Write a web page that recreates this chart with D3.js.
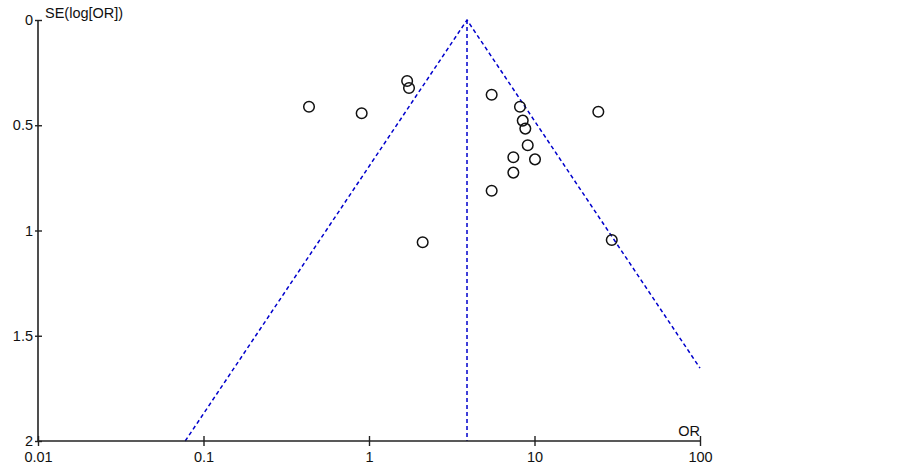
<!DOCTYPE html>
<html>
<head>
<meta charset="utf-8">
<script src="https://cdn.jsdelivr.net/npm/d3@7"></script>
<style>
  body { margin: 0; background: #fff; }
  text { font-family: "Liberation Sans", Arial, sans-serif; }
</style>
</head>
<body>
<div id="canvas"></div>
<script>
// study odds ratios and their standard errors
const studyOR = [0.434, 0.903, 1.70, 1.745, 5.51, 8.17, 24.3, 8.49, 8.80, 9.10, 7.45, 10.07, 7.45, 5.51, 2.11, 29.3];
const studySE = [0.412, 0.443, 0.290, 0.323, 0.355, 0.412, 0.436, 0.478, 0.516, 0.595, 0.652, 0.662, 0.725, 0.811, 1.056, 1.045];
const pooledOR = 3.91;

const xTicks = [0.01, 0.1, 1, 10, 100];
const xTickLabels = ['0.01', '0.1', '1', '10', '100'];
const yTicks = [0, 0.5, 1, 1.5, 2];
const yTickLabels = ['0', '0.5', '1', '1.5', '2'];

const MARGIN = { LEFT: 38, RIGHT: 203, TOP: 20, BOTTOM: 25 };
const W = 903, H = 466;
const WIDTH = W - MARGIN.LEFT - MARGIN.RIGHT;
const HEIGHT = H - MARGIN.TOP - MARGIN.BOTTOM;

const svg = d3.select('#canvas').append('svg')
  .attr('width', W)
  .attr('height', H);

const g = svg.append('g')
  .attr('transform', `translate(${MARGIN.LEFT}, ${MARGIN.TOP})`);

const x = d3.scaleLog().domain([0.01, 100]).range([0, WIDTH]);
const y = d3.scaleLinear().domain([0, 2]).range([0, HEIGHT]);

// funnel (pseudo 95% limits)
const lp = Math.log(pooledOR);
const seRight = (Math.log(100) - lp) / 1.96;
const funnel = [
  [Math.exp(lp - 1.96 * 2), 2],
  [pooledOR, 0],
  [Math.exp(lp + 1.96 * seRight), seRight]
];
const line = d3.line().x(d => x(d[0])).y(d => y(d[1]));

g.append('path')
  .attr('d', line(funnel))
  .attr('fill', 'none')
  .attr('stroke', '#0000cc')
  .attr('stroke-width', 1.5)
  .attr('stroke-dasharray', '4,3');

g.append('path')
  .attr('d', line([[pooledOR, 0], [pooledOR, 2]]))
  .attr('fill', 'none')
  .attr('stroke', '#0000cc')
  .attr('stroke-width', 1.5)
  .attr('stroke-dasharray', '4,3');

// axes
const yAxis = g.append('g')
  .call(d3.axisLeft(y).tickValues(yTicks).tickFormat((d, i) => yTickLabels[i]).tickSize(3).tickPadding(2));
yAxis.select('.domain').attr('stroke', '#222').attr('stroke-width', 1.6).attr('d', `M0,0V${HEIGHT}`);
yAxis.selectAll('.tick line').attr('x1', 4).attr('x2', -3).attr('stroke', '#222').attr('stroke-width', 1.4);
yAxis.selectAll('.tick text').attr('font-size', 14.5).attr('fill', '#111').attr('font-family', '"Liberation Sans", Arial, sans-serif');

const xAxis = g.append('g')
  .attr('transform', `translate(0, ${HEIGHT})`)
  .call(d3.axisBottom(x).tickValues(xTicks).tickFormat((d, i) => xTickLabels[i]).tickSize(5).tickPadding(6));
xAxis.select('.domain').attr('stroke', '#222').attr('stroke-width', 1.6).attr('d', `M0,0H${WIDTH}`);
xAxis.selectAll('.tick line').attr('y1', -5).attr('y2', 5).attr('stroke', '#222').attr('stroke-width', 1.4);
xAxis.selectAll('.tick text').attr('font-size', 14.5).attr('fill', '#111').attr('font-family', '"Liberation Sans", Arial, sans-serif');

g.append('text')
  .attr('x', 7)
  .attr('y', -2)
  .attr('font-size', 14.5)
  .attr('fill', '#111')
  .text('SE(log[OR])');

g.append('text')
  .attr('x', WIDTH)
  .attr('y', HEIGHT - 5)
  .attr('text-anchor', 'end')
  .attr('font-size', 14.5)
  .attr('fill', '#111')
  .text('OR');

// studies
g.selectAll('circle')
  .data(studyOR.map((d, i) => ({ or: d, se: studySE[i] })))
  .enter().append('circle')
  .attr('cx', d => x(d.or))
  .attr('cy', d => y(d.se))
  .attr('r', 5.3)
  .attr('fill', 'none')
  .attr('stroke', '#111')
  .attr('stroke-width', 1.5);
</script>
</body>
</html>
